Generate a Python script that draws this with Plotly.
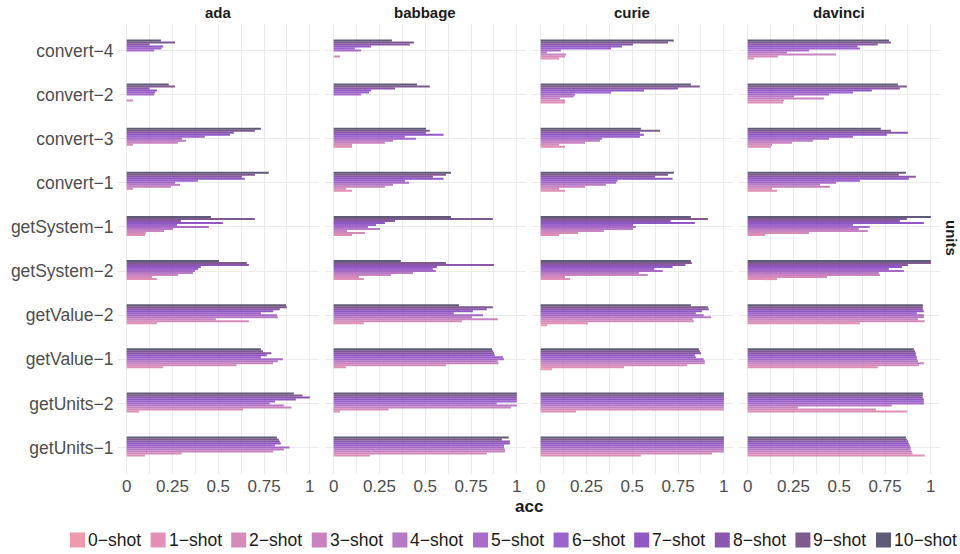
import plotly.graph_objects as go

# Categories, top row first
units = ["convert−4", "convert−2", "convert−3", "convert−1", "getSystem−1",
         "getSystem−2", "getValue−2", "getValue−1", "getUnits−2", "getUnits−1"]
shots = [f"{k}−shot" for k in range(11)]
models = ["ada", "babbage", "curie", "davinci"]

# Accuracy per unit (rows, same order as `units`), columns = 0-shot ... 10-shot
ada = [
    [0, 0, 0, 0, 0, 0.15, 0.19, 0.20, 0.125, 0.264, 0.187],
    [0, 0, 0.035, 0, 0, 0.15, 0.155, 0.165, 0.125, 0.264, 0.23],
    [0, 0, 0.035, 0.28, 0.324, 0.302, 0.427, 0.564, 0.585, 0.70, 0.733],
    [0, 0, 0.035, 0.242, 0.291, 0.264, 0.389, 0.645, 0.629, 0.70, 0.776],
    [0, 0.10, 0.105, 0.204, 0.253, 0.449, 0.275, 0.525, 0.296, 0.70, 0.46],
    [0, 0.165, 0.138, 0.28, 0.362, 0.373, 0.39, 0.405, 0.667, 0.656, 0.504],
    [0, 0.165, 0.667, 0.487, 0.825, 0.82, 0.733, 0.80, 0.836, 0.875, 0.87],
    [0, 0.198, 0.60, 0.80, 0.825, 0.853, 0.733, 0.765, 0.79, 0.744, 0.733],
    [0, 0.067, 0.635, 0.90, 0.858, 0.78, 0.81, 0.924, 1.0, 0.96, 0.913],
    [0, 0.10, 0.30, 0.80, 0.858, 0.89, 0.81, 0.842, 0.836, 0.83, 0.82],
]
babbage = [
    [0, 0, 0.035, 0, 0, 0.15, 0.116, 0.204, 0.416, 0.438, 0.318],
    [0, 0, 0, 0, 0, 0.15, 0.193, 0.204, 0.335, 0.525, 0.455],
    [0, 0.10, 0.10, 0.28, 0.324, 0.449, 0.389, 0.60, 0.504, 0.525, 0.504],
    [0, 0.10, 0.067, 0.28, 0.324, 0.411, 0.389, 0.60, 0.542, 0.613, 0.64],
    [0, 0.10, 0.171, 0.073, 0.253, 0.187, 0.231, 0.28, 0.335, 0.869, 0.64],
    [0, 0.165, 0.138, 0.313, 0.433, 0.558, 0.542, 0.564, 0.875, 0.613, 0.367],
    [0, 0.165, 0.70, 0.896, 0.755, 0.815, 0.656, 0.76, 0.836, 0.869, 0.684],
    [0, 0.067, 0.613, 0.90, 0.896, 0.93, 0.924, 0.88, 0.875, 0.87, 0.864],
    [0, 0.035, 0.30, 0.967, 1.0, 0.89, 1.0, 1.0, 1.0, 1.0, 1.0],
    [0, 0.198, 0.836, 0.935, 0.935, 0.93, 0.93, 0.962, 0.962, 0.918, 0.956],
]
curie = [
    [0, 0.10, 0.133, 0.138, 0.035, 0.11, 0.384, 0.444, 0.504, 0.695, 0.727],
    [0, 0.133, 0.133, 0.105, 0.18, 0.187, 0.384, 0.564, 0.749, 0.869, 0.82],
    [0, 0.133, 0.10, 0.242, 0.324, 0.335, 0.542, 0.564, 0.542, 0.651, 0.547],
    [0, 0.133, 0.10, 0.242, 0.356, 0.411, 0.42, 0.72, 0.624, 0.695, 0.727],
    [0, 0.10, 0.204, 0.345, 0.504, 0.52, 0.504, 0.842, 0.71, 0.913, 0.82],
    [0, 0.16, 0.133, 0.585, 0.536, 0.667, 0.62, 0.72, 0.79, 0.825, 0.82],
    [0.035, 0.258, 0.836, 0.83, 0.93, 0.89, 0.847, 0.88, 0.918, 0.913, 0.82],
    [0.062, 0.455, 0.80, 0.896, 0.896, 0.89, 0.847, 0.842, 0.875, 0.87, 0.864],
    [0, 0.193, 1.0, 1.0, 1.0, 1.0, 1.0, 1.0, 1.0, 1.0, 1.0],
    [0, 0.547, 0.935, 1.0, 1.0, 1.0, 1.0, 1.0, 1.0, 1.0, 1.0],
]
davinci = [
    [0, 0.035, 0.165, 0.482, 0.215, 0.335, 0.613, 0.60, 0.71, 0.782, 0.771],
    [0, 0.193, 0.198, 0.416, 0.253, 0.444, 0.575, 0.678, 0.831, 0.869, 0.82],
    [0, 0.127, 0.133, 0.242, 0.356, 0.444, 0.575, 0.76, 0.875, 0.782, 0.727],
    [0, 0.16, 0.133, 0.449, 0.395, 0.482, 0.613, 0.88, 0.918, 0.825, 0.864],
    [0, 0.095, 0.335, 0.656, 0.607, 0.667, 0.575, 0.962, 0.831, 0.869, 1.0],
    [0, 0.16, 0.433, 0.722, 0.716, 0.853, 0.771, 0.842, 0.875, 1.0, 1.0],
    [0, 0.613, 0.967, 0.93, 0.962, 0.962, 0.924, 0.962, 0.956, 0.956, 0.956],
    [0, 0.71, 0.935, 0.962, 0.93, 0.924, 0.924, 0.918, 0.918, 0.913, 0.907],
    [0, 0.869, 0.70, 0.275, 0.787, 0.962, 0.962, 0.962, 0.956, 0.956, 0.956],
    [0, 0.967, 0.90, 0.896, 0.89, 0.89, 0.885, 0.88, 0.875, 0.869, 0.864],
]
tables = {"ada": ada, "babbage": babbage, "curie": curie, "davinci": davinci}

# Shot palette (as seen over white) and the fill alpha
palette = ["#EF98AE", "#E18FB4", "#D58BBA", "#C883C0", "#B87AC5", "#A96CC8",
           "#9D63CC", "#9257C7", "#8A57AD", "#80598F", "#5F5A78"]
ALPHA = 0.8


def fill(hexcol, a=ALPHA):
    rgb = [int(hexcol[i:i + 2], 16) for i in (1, 3, 5)]
    base = [max(0, min(255, round((c - 255 * (1 - a)) / a))) for c in rgb]
    return f"rgba({base[0]},{base[1]},{base[2]},{a})"


W, H = 960, 554
ML, MR, MT, MB = 117, 20, 24, 80
PW, PH = W - ML - MR, H - MT - MB
panels_px = [(117.5, 319.0), (324.5, 526.0), (531.5, 733.0), (738.5, 940.0)]


def px_x(x):
    return (x - ML) / PW


def px_y(y):
    return (H - MB - y) / PH


FONT = "Liberation Sans, Arial, sans-serif"
GRID = "#EBEBEB"
INK = "#1A1A1A"

fig = go.Figure()
order_bottom_up = units[::-1]

for m_i, model in enumerate(models):
    ax = "" if m_i == 0 else str(m_i + 1)
    rows = tables[model]
    for s_i, shot in enumerate(shots):
        vals = [row[s_i] for row in rows]
        fig.add_trace(go.Bar(
            x=vals, y=units, orientation="h", name=shot,
            marker=dict(color=fill(palette[s_i]), line=dict(width=0)),
            legendgroup=shot, showlegend=False,
            xaxis="x" + ax, yaxis="y" + ax,
        ))
    d0, d1 = panels_px[m_i]
    fig.layout["xaxis" + ax] = dict(
        domain=[px_x(d0), px_x(d1)], range=[-0.05, 1.05], anchor="y" + ax,
        tickvals=[0, 0.25, 0.5, 0.75, 1], ticktext=["0", "0.25", "0.5", "0.75", "1"],
        showgrid=True, gridcolor=GRID, gridwidth=1, zeroline=False, showline=False,
        ticks="", tickfont=dict(family=FONT, size=17, color="#4D4D4D"),
        minor=dict(tickvals=[0.125, 0.375, 0.625, 0.875], showgrid=True,
                   gridcolor=GRID, gridwidth=0.8, ticks=""),
    )
    fig.layout["yaxis" + ax] = dict(
        domain=[0, 1], anchor="x" + ax, type="category",
        categoryorder="array", categoryarray=order_bottom_up, range=[-0.6, 9.6],
        showgrid=True, gridcolor=GRID, gridwidth=1, zeroline=False, showline=False,
        ticks="", showticklabels=(m_i == 0), ticklabelstandoff=3,
        tickfont=dict(family=FONT, size=17.5, color="#4D4D4D"),
        **({} if m_i == 0 else {"matches": "y"}),
    )
    fig.add_annotation(x=px_x((d0 + d1) / 2), y=px_y(12), xref="paper", yref="paper",
                       text="<b>" + model + "</b>", showarrow=False,
                       font=dict(family=FONT, size=15, color=INK),
                       xanchor="center", yanchor="middle")

fig.add_annotation(x=px_x(528.5), y=px_y(506), xref="paper", yref="paper",
                   text="<b>acc</b>", showarrow=False,
                   font=dict(family=FONT, size=17, color=INK),
                   xanchor="center", yanchor="middle")
fig.add_annotation(x=px_x(951), y=px_y(238), xref="paper", yref="paper",
                   text="<b>units</b>", showarrow=False, textangle=90,
                   font=dict(family=FONT, size=15, color=INK),
                   xanchor="center", yanchor="middle")

# Legend row along the bottom: colour key per shot count
KEY_X0, KEY_STEP, KEY_SIZE, KEY_Y = 70.0, 80.6, 15.0, 540.0
for s_i, shot in enumerate(shots):
    kx = KEY_X0 + s_i * KEY_STEP
    fig.add_shape(type="rect", xref="paper", yref="paper",
                  x0=px_x(kx), x1=px_x(kx + KEY_SIZE),
                  y0=px_y(KEY_Y + KEY_SIZE / 2), y1=px_y(KEY_Y - KEY_SIZE / 2),
                  line=dict(width=0), fillcolor=fill(palette[s_i]), layer="above")
    fig.add_annotation(x=px_x(kx + KEY_SIZE + 1), y=px_y(KEY_Y), xref="paper", yref="paper",
                       text=shot, showarrow=False, xanchor="left", yanchor="middle",
                       font=dict(family=FONT, size=17.5, color=INK))

fig.update_layout(
    width=W, height=H,
    margin=dict(l=ML, r=MR, t=MT, b=MB),
    paper_bgcolor="white", plot_bgcolor="white",
    barmode="group", bargap=0.5, bargroupgap=0,
    font=dict(family=FONT, color="#4D4D4D"),
    showlegend=False,
)

fig.write_html("out.html")
